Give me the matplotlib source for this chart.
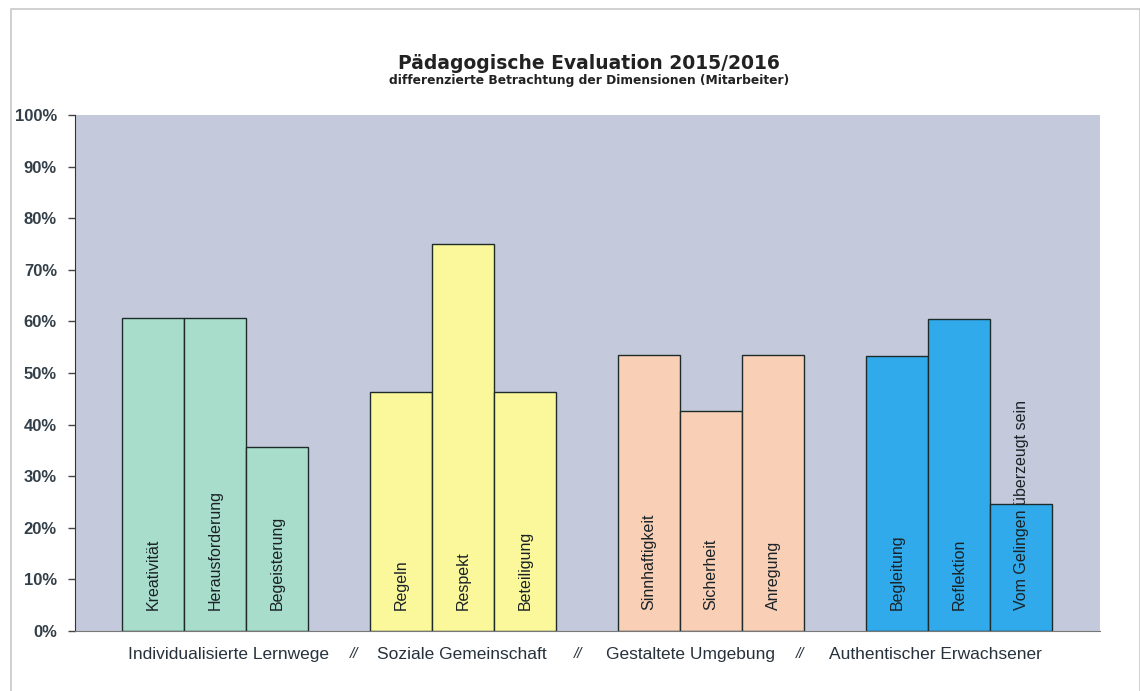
import matplotlib.pyplot as plt
import matplotlib.patches as mpatches
from matplotlib.ticker import PercentFormatter, MultipleLocator

# data
groups = ["Individualisierte Lernwege", "Soziale Gemeinschaft",
          "Gestaltete Umgebung", "Authentischer Erwachsener"]
items = [
    ["Kreativität", "Herausforderung", "Begeisterung"],
    ["Regeln", "Respekt", "Beteiligung"],
    ["Sinnhaftigkeit", "Sicherheit", "Anregung"],
    ["Begleitung", "Reflektion", "Vom Gelingen überzeugt sein"],
]
values = [
    [0.607, 0.607, 0.357],
    [0.464, 0.75, 0.464],
    [0.535, 0.427, 0.535],
    [0.532, 0.604, 0.247],
]
colors = ["#a8dccb", "#fbf89c", "#f9cfb6", "#30aaea"]

# label positions along the x axis (in bar units)
group_label_x = [1.21, 4.98, 8.66, 12.61]
sep_x = [3.24, 6.85, 10.44]

plt.rcParams["font.family"] = ["Liberation Sans", "DejaVu Sans"]

fig = plt.figure(figsize=(11.4, 6.91), dpi=100)
ax = fig.add_axes([0.0658, 0.0868, 0.8991, 0.7468])

for gi, (names, vals) in enumerate(zip(items, values)):
    xs = [gi * 4 + k for k in range(len(vals))]
    ax.bar(xs, vals, width=1.0, color=colors[gi], edgecolor="#1d2b2b",
           linewidth=1.0, zorder=2)
    for x, name in zip(xs, names):
        ax.text(x, 0.04, name, rotation=90, ha="center", va="bottom",
                fontsize=11.5, color="#1a2226", zorder=3)

ax.set_xlim(-1.26, 15.27)
ax.set_ylim(0, 1.0)
ax.set_facecolor("#c4cadb")
ax.yaxis.set_major_locator(MultipleLocator(0.1))
ax.yaxis.set_major_formatter(PercentFormatter(1.0, decimals=0))
ax.set_xticks([])
ax.tick_params(axis="y", direction="out", length=5, width=1.0,
               color="#444", labelsize=12, labelcolor="#333f48", pad=8)
for lab in ax.get_yticklabels():
    lab.set_fontweight("bold")
for s in ["top", "right"]:
    ax.spines[s].set_visible(False)
ax.spines["left"].set_color("#333")
ax.spines["bottom"].set_color("#777")

for x, g in zip(group_label_x, groups):
    ax.text(x, -0.045, g, ha="center", va="center", fontsize=12.5,
            color="#27323c", transform=ax.get_xaxis_transform())
for x in sep_x:
    ax.text(x, -0.045, "//", ha="center", va="center", fontsize=11,
            style="italic", color="#27323c",
            transform=ax.get_xaxis_transform())

fig.text(0.517, 0.908, "Pädagogische Evaluation 2015/2016", ha="center",
         va="center", fontsize=13.5, fontweight="bold", family="DejaVu Sans",
         color="#222")
fig.text(0.517, 0.884, "differenzierte Betrachtung der Dimensionen (Mitarbeiter)",
         ha="center", va="center", fontsize=8.8, fontweight="bold",
         family="DejaVu Sans", color="#222")

# thin frame of the scanned page
frame = mpatches.Rectangle((0.0096, -0.01), 0.99, 0.997, transform=fig.transFigure,
                           fill=False, edgecolor="#c8c8c8", linewidth=1.2)
fig.patches.append(frame)

fig.savefig("out.png", dpi=100, facecolor="white")
